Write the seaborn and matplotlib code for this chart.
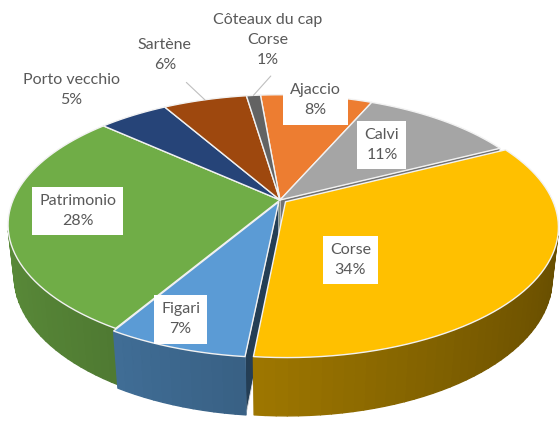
import numpy as np
import matplotlib.pyplot as plt
import seaborn as sns
from matplotlib.patches import Polygon
from matplotlib.colors import to_rgb

regions = ["Ajaccio", "Calvi", "Corse", "Figari", "Patrimonio",
           "Porto vecchio", "Sartène", "Côteaux du cap\nCorse"]
shares = [8, 11, 34, 7, 28, 5, 6, 1]
colors = ["#ED7D31", "#A5A5A5", "#FFC000", "#5B9BD5", "#70AD47",
          "#264478", "#9E480E", "#636363"]
explode = [0, 0, 0.025, 0.015, 0, 0, 0, 0]

# label placement on the disc: radius, angle nudge (deg), white box, leader line
label_r = [0.95, 0.635, 0.48, 0.85, 0.75, 1.41, 1.58, 1.69]
label_shift = [0, 2.6, -28, -3, -2, 2.5, 1.1, -4.8]
boxed = [True, True, True, True, True, False, False, False]
leader = [False, False, False, False, False, False, True, True]

sns.set_style("white")
plt.rcParams["font.family"] = ["Lato", "DejaVu Sans"]

# simple perspective camera for the "3D" pie
ELEV = np.radians(28)
S, C = np.sin(ELEV), np.cos(ELEV)
D, F = 4.63, 1236
AX, AY = 280, 200
THICK = 0.22
CAM = np.array([0.0, -D * C])


def project(X, Z, H=0.0):
    X, Z = np.asarray(X, float), np.asarray(Z, float)
    yc = H * C + Z * S
    zc = D + Z * C - H * S
    return AX + F * X / zc, AY - F * yc / zc, zc


def shade(col, th):
    k = 0.6 - 0.2 * np.cos(th)
    return tuple(np.clip(np.array(to_rgb(col)) * k, 0, 1))


fig = plt.figure(figsize=(5.6, 4.3), dpi=100)
ax = fig.add_axes([0, 0, 1, 1])
ax.set_xlim(0, 560)
ax.set_ylim(430, 0)
ax.axis("off")

frac = np.array(shares) / sum(shares)
start = 95 - 360 * np.concatenate([[0], np.cumsum(frac)[:-1]])
end = start - 360 * frac
mid = (start + end) / 2

faces = []
tops = []
for i in range(len(shares)):
    m = np.radians(mid[i])
    ex, ez = explode[i] * np.cos(m), explode[i] * np.sin(m)
    n = max(3, int(abs(start[i] - end[i]) / 2) + 2)
    th = np.radians(np.linspace(start[i], end[i], n))
    rx, rz = ex + np.cos(th), ez + np.sin(th)

    # outer wall
    for j in range(n - 1):
        tm = (th[j] + th[j + 1]) / 2
        nrm = np.array([np.cos(tm), np.sin(tm)])
        p = np.array([(rx[j] + rx[j + 1]) / 2, (rz[j] + rz[j + 1]) / 2])
        if nrm @ (CAM - p) <= 0:
            continue
        xs_t, ys_t, _ = project(rx[j:j + 2], rz[j:j + 2], 0.0)
        xs_b, ys_b, _ = project(rx[j:j + 2], rz[j:j + 2], -THICK)
        _, _, zc = project(p[0], p[1], -THICK / 2)
        poly = np.column_stack([np.r_[xs_t, xs_b[::-1]], np.r_[ys_t, ys_b[::-1]]])
        faces.append((zc, poly, shade(colors[i], tm), None))

    # radial faces
    for t, nrm in [(th[0], np.array([-np.sin(th[0]), np.cos(th[0])])),
                   (th[-1], np.array([np.sin(th[-1]), -np.cos(th[-1])]))]:
        px, pz = np.array([ex, ex + np.cos(t)]), np.array([ez, ez + np.sin(t)])
        if nrm @ (CAM - np.array([px.mean(), pz.mean()])) <= 0:
            continue
        xs_t, ys_t, _ = project(px, pz, 0.0)
        xs_b, ys_b, _ = project(px, pz, -THICK)
        _, _, zc = project(px.mean(), pz.mean(), -THICK / 2)
        poly = np.column_stack([np.r_[xs_t, xs_b[::-1]], np.r_[ys_t, ys_b[::-1]]])
        faces.append((zc, poly, shade(colors[i], t + np.pi / 2), "#d9d9d9"))

    xs, ys, _ = project(np.r_[ex, rx], np.r_[ez, rz], 0.0)
    tops.append((np.column_stack([xs, ys]), colors[i]))

for zc, poly, col, ec in sorted(faces, key=lambda f: -f[0]):
    ax.add_patch(Polygon(poly, closed=True, fc=col, ec=ec if ec else col,
                         lw=0.6 if ec else 1.0, joinstyle="round"))

for poly, col in tops:
    ax.add_patch(Polygon(poly, closed=True, fc=col, ec="#f2f2f2", lw=1.0))

# data labels
for i, name in enumerate(regions):
    a = np.radians(mid[i] + label_shift[i])
    m = np.radians(mid[i])
    ex, ez = explode[i] * np.cos(m), explode[i] * np.sin(m)
    lx, ly, _ = project(ex + label_r[i] * np.cos(a), ez + label_r[i] * np.sin(a))
    box = dict(boxstyle="square,pad=0.45", fc="white", ec="none") if boxed[i] else None
    ax.text(lx, ly, f"{name}\n{shares[i]}%", ha="center", va="center",
            fontsize=11.5, color="#595959", linespacing=1.55, bbox=box)
    if leader[i]:
        x0, y0, _ = project(1.0 * np.cos(m), 1.0 * np.sin(m))
        x1, y1, _ = project(1.22 * np.cos(a), 1.22 * np.sin(a))
        ax.plot([x0, x1], [y0, y1], color="#bfbfbf", lw=0.8)

fig.savefig("out.png", dpi=100)
